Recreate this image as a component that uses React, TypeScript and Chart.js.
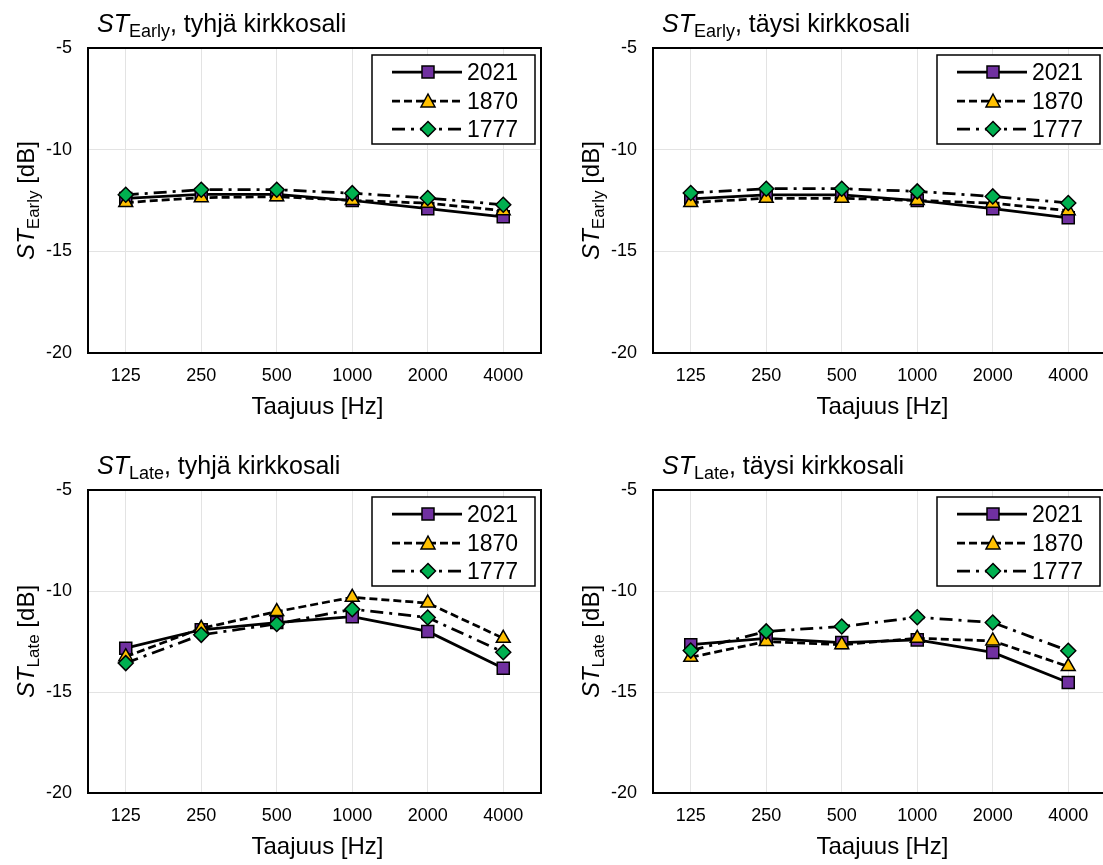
import React, { useEffect, useRef } from "react";
import { Chart, registerables } from "chart.js";

Chart.register(...registerables);

// ---- data ----
const categories = ["125", "250", "500", "1000", "2000", "4000"];
const seriesNames = ["2021", "1870", "1777"];
const yTicks = [-20, -15, -10, -5];

const earlyEmpty2021 = [-12.4, -12.2, -12.2, -12.5, -12.9, -13.3];
const earlyEmpty1870 = [-12.6, -12.36, -12.31, -12.5, -12.63, -13.0];
const earlyEmpty1777 = [-12.22, -11.97, -11.97, -12.14, -12.38, -12.71];

const earlyFull2021 = [-12.42, -12.22, -12.22, -12.5, -12.9, -13.35];
const earlyFull1870 = [-12.6, -12.39, -12.39, -12.5, -12.63, -13.0];
const earlyFull1777 = [-12.13, -11.92, -11.92, -12.05, -12.3, -12.62];

const lateEmpty2021 = [-12.83, -11.92, -11.56, -11.27, -12.0, -13.82];
const lateEmpty1870 = [-13.25, -11.85, -11.02, -10.31, -10.6, -12.34];
const lateEmpty1777 = [-13.57, -12.17, -11.63, -10.9, -11.31, -13.03];

const lateFull2021 = [-12.66, -12.34, -12.55, -12.42, -13.04, -14.53];
const lateFull1870 = [-13.28, -12.5, -12.66, -12.34, -12.47, -13.74];
const lateFull1777 = [-12.95, -12.0, -11.76, -11.3, -11.56, -12.96];

const FONT = "'Liberation Sans', Arial, sans-serif";
const COLORS = ["#7030A0", "#FFC000", "#00B050"];
const DASHES: number[][] = [[], [8, 4], [13, 6, 3, 6]];
const STYLES = ["rect", "triangle", "rectRot"];

type PanelDef = {
  x: number;
  y: number;
  plotTop: number;
  plotBottom: number;
  sub: string;
  rest: string;
  values: number[][];
};

const panels: PanelDef[] = [
  { x: 0, y: 0, plotTop: 48, plotBottom: 353, sub: "Early", rest: ", tyhjä kirkkosali", values: [earlyEmpty2021, earlyEmpty1870, earlyEmpty1777] },
  { x: 565, y: 0, plotTop: 48, plotBottom: 353, sub: "Early", rest: ", täysi kirkkosali", values: [earlyFull2021, earlyFull1870, earlyFull1777] },
  { x: 0, y: 442, plotTop: 48, plotBottom: 351, sub: "Late", rest: ", tyhjä kirkkosali", values: [lateEmpty2021, lateEmpty1870, lateEmpty1777] },
  { x: 565, y: 442, plotTop: 48, plotBottom: 351, sub: "Late", rest: ", täysi kirkkosali", values: [lateFull2021, lateFull1870, lateFull1777] },
];

const CW = 551;
const CH = 432;

function drawMarker(ctx: CanvasRenderingContext2D, style: string, x: number, y: number, color: string) {
  ctx.save();
  ctx.setLineDash([]);
  ctx.fillStyle = color;
  ctx.strokeStyle = "#000";
  ctx.lineWidth = 1.5;
  ctx.beginPath();
  if (style === "rect") {
    ctx.rect(x - 6, y - 6, 12, 12);
  } else if (style === "triangle") {
    ctx.moveTo(x, y - 7);
    ctx.lineTo(x + 7, y + 6);
    ctx.lineTo(x - 7, y + 6);
    ctx.closePath();
  } else {
    ctx.moveTo(x, y - 7.5);
    ctx.lineTo(x + 7.5, y);
    ctx.lineTo(x, y + 7.5);
    ctx.lineTo(x - 7.5, y);
    ctx.closePath();
  }
  ctx.fill();
  ctx.stroke();
  ctx.restore();
}

const decorPlugin = {
  id: "decor",
  afterDatasetsDraw(chart: any, _args: any, opts: any) {
    const ctx: CanvasRenderingContext2D = chart.ctx;
    const a = chart.chartArea;
    ctx.save();
    // plot border
    ctx.strokeStyle = "#000";
    ctx.lineWidth = 2;
    ctx.setLineDash([]);
    ctx.strokeRect(a.left, a.top, a.right - a.left, a.bottom - a.top);

    // legend
    const bl = a.right - 169;
    const bt = a.top + 7;
    ctx.fillStyle = "#fff";
    ctx.fillRect(bl, bt, 163, 89);
    ctx.lineWidth = 1.5;
    ctx.strokeRect(bl, bt, 163, 89);
    const rows = [24, 53, 81];
    seriesNames.forEach((name, i) => {
      const ry = a.top + rows[i];
      ctx.save();
      ctx.strokeStyle = "#000";
      ctx.lineWidth = 2.75;
      ctx.setLineDash(DASHES[i]);
      ctx.beginPath();
      ctx.moveTo(bl + 20, ry);
      ctx.lineTo(bl + 90, ry);
      ctx.stroke();
      ctx.restore();
      drawMarker(ctx, STYLES[i], bl + 56, ry, COLORS[i]);
      ctx.fillStyle = "#000";
      ctx.font = `23px ${FONT}`;
      ctx.textAlign = "left";
      ctx.textBaseline = "alphabetic";
      ctx.fillText(name, bl + 95, ry + 8);
    });

    // title with subscript
    ctx.fillStyle = "#000";
    ctx.textAlign = "left";
    ctx.textBaseline = "alphabetic";
    let tx = a.left + 9;
    const tb = a.top - 16.5;
    ctx.font = `italic 25px ${FONT}`;
    ctx.fillText("ST", tx, tb);
    tx += ctx.measureText("ST").width;
    ctx.font = `18px ${FONT}`;
    ctx.fillText(opts.sub, tx, tb + 5);
    tx += ctx.measureText(opts.sub).width;
    ctx.font = `25px ${FONT}`;
    ctx.fillText(opts.rest, tx, tb);

    // x axis title
    ctx.font = `24px ${FONT}`;
    ctx.textAlign = "center";
    ctx.textBaseline = "middle";
    ctx.fillText("Taajuus [Hz]", (a.left + a.right) / 2 + 3, a.bottom + 54);

    // y axis title (rotated)
    ctx.save();
    ctx.translate(34, (a.top + a.bottom) / 2);
    ctx.rotate(-Math.PI / 2);
    ctx.textAlign = "left";
    ctx.textBaseline = "alphabetic";
    ctx.font = `italic 24px ${FONT}`;
    const w1 = ctx.measureText("ST").width;
    ctx.font = `17px ${FONT}`;
    const w2 = ctx.measureText(opts.sub).width;
    ctx.font = `24px ${FONT}`;
    const w3 = ctx.measureText(" [dB]").width;
    let lx = -(w1 + w2 + w3) / 2;
    ctx.font = `italic 24px ${FONT}`;
    ctx.fillText("ST", lx, 0);
    lx += w1;
    ctx.font = `17px ${FONT}`;
    ctx.fillText(opts.sub, lx, 5);
    lx += w2;
    ctx.font = `24px ${FONT}`;
    ctx.fillText(" [dB]", lx, 0);
    ctx.restore();

    ctx.restore();
  },
};

function Panel({ def }: { def: PanelDef }) {
  const ref = useRef<HTMLCanvasElement | null>(null);
  useEffect(() => {
    if (!ref.current) return;
    const xh = CH - def.plotBottom;
    const chart = new Chart(ref.current, {
      type: "line",
      data: {
        labels: categories,
        datasets: seriesNames.map((name, i) => ({
          label: name,
          data: def.values[i],
          borderColor: "#000",
          borderWidth: 2.75,
          borderDash: DASHES[i],
          pointStyle: STYLES[i] as any,
          pointRadius: i === 0 ? 8.5 : i === 1 ? 8 : 7.5,
          pointBackgroundColor: COLORS[i],
          pointBorderColor: "#000",
          pointBorderWidth: 1.5,
          fill: false,
          tension: 0,
          order: 2 - i,
        })),
      },
      options: {
        responsive: false,
        animation: false,
        events: [],
        layout: { padding: { top: def.plotTop, right: 10, left: 0, bottom: 0 } },
        plugins: {
          legend: { display: false },
          tooltip: { enabled: false },
          decor: { sub: def.sub, rest: def.rest },
        } as any,
        scales: {
          x: {
            type: "category",
            offset: true,
            grid: { display: true, color: "#e3e3e3", lineWidth: 1, offset: false, drawTicks: false },
            border: { display: false },
            ticks: { color: "#000", font: { family: FONT, size: 18 }, padding: 12, maxRotation: 0 },
            afterFit: (s: any) => {
              s.height = xh;
            },
          },
          y: {
            min: -20,
            max: -5,
            afterBuildTicks: (s: any) => {
              s.ticks = yTicks.map((v) => ({ value: v }));
            },
            grid: { color: "#e3e3e3", lineWidth: 1, drawTicks: false },
            border: { display: false },
            ticks: { color: "#000", font: { family: FONT, size: 18 }, padding: 16 },
            afterFit: (s: any) => {
              s.width = 88;
            },
          },
        },
      },
      plugins: [decorPlugin as any],
    });
    return () => chart.destroy();
  }, [def]);
  return (
    <canvas
      ref={ref}
      width={CW}
      height={CH}
      style={{ position: "absolute", left: def.x, top: def.y, width: CW, height: CH }}
    />
  );
}

export default function App() {
  return (
    <div
      style={{
        position: "fixed",
        left: 0,
        top: 0,
        width: 1103,
        height: 865,
        overflow: "hidden",
        background: "#fff",
      }}
    >
      {panels.map((p, i) => (
        <Panel key={i} def={p} />
      ))}
    </div>
  );
}
